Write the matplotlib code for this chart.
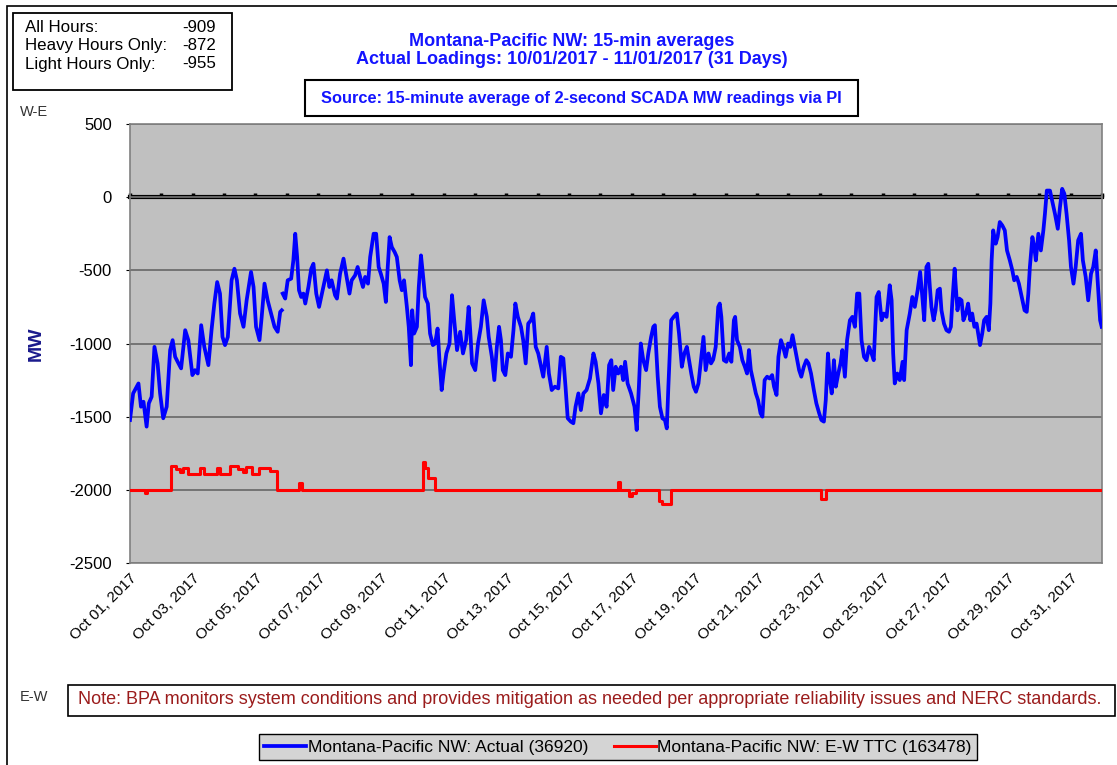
import numpy as np
import pandas as pd
import matplotlib
matplotlib.use("Agg")
from matplotlib import pyplot as plt
from matplotlib import dates as mdates
from matplotlib.ticker import FixedLocator, MultipleLocator
from matplotlib.patches import Rectangle

plt.rcParams['font.family'] = ['Liberation Sans', 'DejaVu Sans']
plt.rcParams['axes.unicode_minus'] = False

# 数据：10月1日起的天数 + MW
actual_day = [
    0.0, 0.1, 0.27, 0.35, 0.43, 0.53, 0.6, 0.69, 0.78, 0.88, 0.96, 1.06, 1.17, 1.28, 1.36,
    1.44, 1.52, 1.63, 1.76, 1.86, 1.99, 2.07, 2.16, 2.27, 2.37, 2.5, 2.6, 2.69, 2.78, 2.87,
    2.95, 3.03, 3.12, 3.24, 3.33, 3.41, 3.51, 3.62, 3.72, 3.86, 3.94, 4.02, 4.13, 4.2, 4.29,
    4.39, 4.5, 4.61, 4.71, 4.79, 4.84, 4.855, 4.87, 4.95, 5.03, 5.14, 5.21, 5.27, 5.33, 5.39,
    5.46, 5.53, 5.59, 5.69, 5.78, 5.85, 5.94, 6.03, 6.12, 6.28, 6.36, 6.43, 6.54, 6.6, 6.7,
    6.81, 6.89, 7.0, 7.07, 7.18, 7.26, 7.34, 7.43, 7.5, 7.59, 7.66, 7.77, 7.85, 7.93, 8.0,
    8.09, 8.16, 8.22, 8.28, 8.35, 8.44, 8.51, 8.6, 8.67, 8.74, 8.83, 8.89, 8.96, 9.0, 9.06,
    9.15, 9.21, 9.28, 9.34, 9.41, 9.5, 9.57, 9.66, 9.73, 9.81, 9.87, 9.94, 10.0, 10.09, 10.19,
    10.27, 10.34, 10.43, 10.53, 10.62, 10.72, 10.8, 10.85, 10.91, 11.01, 11.1, 11.19, 11.28, 11.38, 11.44,
    11.54, 11.62, 11.7, 11.77, 11.83, 11.89, 11.97, 12.05, 12.15, 12.23, 12.29, 12.37, 12.47, 12.54, 12.62,
    12.7, 12.79, 12.86, 12.94, 13.02, 13.11, 13.18, 13.29, 13.36, 13.45, 13.55, 13.66, 13.74, 13.82, 13.89,
    13.96, 14.06, 14.14, 14.21, 14.3, 14.38, 14.46, 14.56, 14.67, 14.78, 14.85, 14.94, 15.02, 15.11, 15.2,
    15.28, 15.35, 15.41, 15.49, 15.57, 15.66, 15.73, 15.79, 15.87, 15.98, 16.09, 16.16, 16.23, 16.29, 16.37,
    16.46, 16.53, 16.62, 16.69, 16.74, 16.83, 16.9, 16.98, 17.06, 17.12, 17.17, 17.26, 17.34, 17.44, 17.51,
    17.6, 17.68, 17.76, 17.83, 17.9, 17.98, 18.05, 18.13, 18.21, 18.29, 18.36, 18.45, 18.53, 18.6, 18.68,
    18.76, 18.81, 18.86, 18.94, 19.02, 19.11, 19.18, 19.26, 19.3, 19.36, 19.45, 19.53, 19.61, 19.68, 19.74,
    19.8, 19.87, 19.96, 20.03, 20.11, 20.17, 20.24, 20.32, 20.4, 20.48, 20.54, 20.62, 20.68, 20.76, 20.83,
    20.91, 20.99, 21.06, 21.13, 21.2, 21.28, 21.34, 21.41, 21.49, 21.57, 21.64, 21.72, 21.81, 21.89, 21.98,
    22.05, 22.13, 22.19, 22.26, 22.32, 22.38, 22.45, 22.51, 22.59, 22.66, 22.72, 22.8, 22.87, 22.96, 23.04,
    23.12, 23.19, 23.26, 23.33, 23.41, 23.49, 23.57, 23.65, 23.72, 23.81, 23.88, 23.97, 24.04, 24.13, 24.23,
    24.29, 24.34, 24.39, 24.47, 24.55, 24.64, 24.69, 24.77, 24.87, 24.95, 25.03, 25.12, 25.2, 25.27, 25.33,
    25.4, 25.46, 25.51, 25.56, 25.63, 25.69, 25.76, 25.83, 25.88, 25.96, 26.04, 26.12, 26.18, 26.23, 26.3,
    26.33, 26.39, 26.45, 26.52, 26.58, 26.66, 26.73, 26.8, 26.86, 26.93, 27.0, 27.05, 27.11, 27.18, 27.24,
    27.32, 27.39, 27.44, 27.48, 27.53, 27.61, 27.67, 27.74, 27.82, 27.9, 27.97, 28.06, 28.14, 28.2, 28.28,
    28.35, 28.44, 28.53, 28.6, 28.65, 28.7, 28.78, 28.84, 28.89, 28.97, 29.05, 29.13, 29.18, 29.24, 29.34,
    29.43, 29.5, 29.59, 29.66, 29.73, 29.8, 29.87, 29.95, 30.01, 30.09, 30.16, 30.24, 30.33, 30.39, 30.48,
    30.56, 30.65, 30.72, 30.8, 30.86, 30.94, 30.99,
]
actual_mw = [
    -1523, -1341, -1273, -1432, -1398, -1568, -1409, -1364, -1023, -1136, -1341, -1511, -1432, -1045, -977,
    -1091, -1125, -1170, -909, -977, -1216, -1182, -1205, -875, -1023, -1148, -909, -727, -580, -659,
    -955, -1011, -955, -568, -489, -568, -795, -886, -705, -511, -614, -886, -977, -818, -591,
    -705, -795, -886, -920, -784, -773, np.nan, -659, -693, -568, -557, -432, -250, -409, -636,
    -682, -659, -727, -614, -489, -455, -659, -750, -659, -500, -614, -568, -670, -693, -523,
    -420, -523, -659, -568, -534, -477, -545, -614, -545, -591, -409, -250, -250, -477, -523,
    -591, -716, -477, -273, -341, -375, -409, -568, -636, -568, -750, -886, -1148, -773, -932,
    -886, -614, -398, -523, -682, -727, -932, -1011, -1000, -898, -1114, -1318, -1205, -1068, -1000,
    -670, -841, -1045, -920, -1068, -977, -750, -909, -1136, -1182, -1000, -886, -705, -818, -955,
    -1091, -1250, -1023, -886, -977, -1182, -1216, -1068, -1091, -909, -727, -818, -886, -977, -1136,
    -864, -841, -795, -1023, -1068, -1159, -1227, -1023, -1205, -1318, -1295, -1307, -1091, -1102, -1295,
    -1511, -1534, -1545, -1432, -1341, -1455, -1341, -1318, -1239, -1068, -1125, -1273, -1477, -1352, -1432,
    -1148, -1114, -1318, -1159, -1205, -1159, -1250, -1125, -1273, -1341, -1432, -1591, -1295, -1000, -1114,
    -1182, -1068, -955, -886, -875, -1227, -1432, -1511, -1523, -1580, -1295, -841, -818, -795, -932,
    -1159, -1068, -1023, -1114, -1205, -1295, -1330, -1273, -1114, -955, -1182, -1068, -1136, -1110, -1023,
    -750, -727, -818, -1114, -1125, -1068, -1125, -841, -818, -977, -1023, -1114, -1159, -1205, -1045,
    -1182, -1250, -1341, -1386, -1477, -1500, -1250, -1227, -1239, -1216, -1295, -1352, -1091, -977, -1023,
    -1091, -1000, -1023, -943, -1023, -1114, -1182, -1227, -1159, -1114, -1136, -1205, -1318, -1409, -1477,
    -1523, -1534, -1386, -1068, -1250, -1341, -1114, -1295, -1205, -1136, -1045, -1227, -977, -841, -818,
    -886, -659, -659, -977, -1091, -1114, -1023, -1068, -1114, -682, -648, -841, -795, -818, -602,
    -705, -1068, -1273, -1205, -1250, -1125, -1250, -909, -795, -682, -750, -636, -511, -682, -841,
    -477, -455, -614, -750, -841, -773, -636, -625, -773, -864, -909, -920, -886, -705, -489,
    -591, -773, -693, -705, -841, -795, -727, -841, -795, -886, -864, -932, -1011, -932, -841,
    -818, -909, -727, -432, -227, -318, -273, -170, -193, -227, -364, -432, -500, -568, -545,
    -591, -682, -773, -784, -659, -477, -273, -341, -432, -250, -364, -227, -114, 45, 45,
    -45, -114, -216, -68, 57, 23, -114, -295, -477, -591, -477, -295, -250, -432, -545,
    -705, -523, -477, -364, -568, -841, -886,
]

# E-W TTC：阶梯值（从该时刻起保持）
ttc_day = [0.0, 0.47, 0.55, 1.3, 1.47, 1.6, 1.7, 1.85, 2.24, 2.35, 2.77, 2.88, 3.2, 3.45, 3.6,
           3.7, 3.9, 4.12, 4.45, 4.69, 5.38, 5.5, 9.33, 9.42, 9.5, 9.74, 15.55, 15.62, 15.9, 16.02,
           16.15, 16.88, 16.97, 17.25, 22.03, 22.2, 31.0]
ttc_mw = [-2000, -2025, -2000, -1835, -1860, -1880, -1850, -1890, -1850, -1890, -1850, -1890, -1840, -1860, -1875,
          -1845, -1890, -1850, -1870, -2000, -1950, -2000, -1810, -1850, -1920, -2000, -1945, -2000, -2040, -2020,
          -2000, -2075, -2095, -2000, -2060, -2000, -2000]

stats_names = ["All Hours:", "Heavy Hours Only:", "Light Hours Only:"]
stats_vals = ["-909", "-872", "-955"]
actual_count = 36920
ttc_count = 163478

start = pd.Timestamp("2017-10-01")
t_actual = start + pd.to_timedelta(actual_day, unit="D")
t_ttc = start + pd.to_timedelta(ttc_day, unit="D")

W, H = 1117, 765
fig = plt.figure(figsize=(W / 100, H / 100), dpi=100)

def fx(x):
    return x / W

def fy(y):
    return 1 - y / H

ax = fig.add_axes([fx(130), fy(563), fx(1102) - fx(130), fy(124) - fy(563)])
ax.set_facecolor("#c0c0c0")

ax.plot(t_actual, actual_mw, color="#0000ff", lw=2.7, solid_joinstyle="round",
        label="Montana-Pacific NW: Actual (%d)" % actual_count, zorder=3)
ax.plot(t_ttc, ttc_mw, color="#ff0000", lw=2.2, drawstyle="steps-post",
        label="Montana-Pacific NW: E-W TTC (%d)" % ttc_count, zorder=3)

ax.set_xlim(start, start + pd.Timedelta(days=31))
ax.set_ylim(-2500, 500)
ax.yaxis.set_major_locator(MultipleLocator(500))
ax.yaxis.grid(True, color="#6e6e6e", lw=1.3)
ax.set_axisbelow(True)
for s in ax.spines.values():
    s.set_color("#808080")
    s.set_linewidth(1.2)

xticks = mdates.date2num(pd.date_range("2017-10-01", "2017-10-31", freq="2D"))
ax.xaxis.set_major_locator(FixedLocator(xticks))
ax.xaxis.set_major_formatter(mdates.DateFormatter("%b %d, %Y"))
ax.tick_params(axis="x", length=0, pad=6, labelsize=11)
ax.tick_params(axis="y", length=3, pad=10, labelsize=12)
for lab in ax.get_xticklabels():
    lab.set_rotation(45)
    lab.set_ha("right")
    lab.set_va("top")
    lab.set_rotation_mode("anchor")

# 0 MW 处的粗黑线（带每日刻度）
sec = ax.secondary_xaxis(2500 / 3000)
sec.xaxis.set_major_locator(FixedLocator(mdates.date2num(pd.date_range("2017-10-01", "2017-11-01", freq="D"))))
sec.tick_params(axis="x", direction="out", length=3, width=2.5, labeltop=False, labelbottom=False)
sec.spines["top"].set_linewidth(3)
sec.spines["top"].set_color("black")

# 标题
blue = "#1414ff"
fig.text(fx(572), fy(42), "Montana-Pacific NW: 15-min averages", color=blue, fontsize=13,
         fontweight="bold", ha="center", va="center")
fig.text(fx(572), fy(59), "Actual Loadings: 10/01/2017 - 11/01/2017 (31 Days)", color=blue, fontsize=13,
         fontweight="bold", ha="center", va="center")
fig.patches.append(Rectangle((fx(305), fy(116)), fx(858) - fx(305), fy(80) - fy(116), transform=fig.transFigure,
                             fill=False, edgecolor="black", lw=1.5))
fig.text(fx(581), fy(98), "Source: 15-minute average of 2-second SCADA MW readings via PI", color=blue,
         fontsize=11.8, fontweight="bold", ha="center", va="center")

# 统计框
fig.patches.append(Rectangle((fx(13), fy(90)), fx(232) - fx(13), fy(13) - fy(90), transform=fig.transFigure,
                             fill=False, edgecolor="black", lw=1.3))
for i in range(3):
    yy = 27 + i * 18.5
    fig.text(fx(25), fy(yy), stats_names[i], fontsize=12.2, ha="left", va="center")
    fig.text(fx(216), fy(yy), stats_vals[i], fontsize=12.2, ha="right", va="center")

fig.text(fx(20), fy(112), "W-E", fontsize=10.5, color="#333333", ha="left", va="center")
fig.text(fx(20), fy(697), "E-W", fontsize=10.5, color="#333333", ha="left", va="center")
fig.text(fx(36), fy(344), "MW", fontsize=14, fontweight="bold", color="#1a1a8c", rotation=90,
         ha="center", va="center")

# 注释框
fig.patches.append(Rectangle((fx(68), fy(716)), fx(1115) - fx(68), fy(685) - fy(716), transform=fig.transFigure,
                             fill=False, edgecolor="black", lw=1.2))
fig.text(fx(78), fy(700), "Note: BPA monitors system conditions and provides mitigation as needed per "
         "appropriate reliability issues and NERC standards.", color="#9b1c1c", fontsize=13,
         ha="left", va="center")

# 外框
fig.patches.append(Rectangle((fx(7), -0.1), 1.2, fy(6) + 0.1, transform=fig.transFigure,
                             fill=False, edgecolor="black", lw=1.2))

leg = fig.legend(loc="center", bbox_to_anchor=(fx(618), fy(747)), ncol=2, fontsize=12.5,
                 frameon=True, fancybox=False, facecolor="#d4d4d4", edgecolor="black",
                 handlelength=2.4, handletextpad=0.1, columnspacing=1.5, borderpad=0.3,
                 borderaxespad=0)
leg.get_frame().set_linewidth(1.0)
leg.get_frame().set_alpha(1)

plt.savefig("out.png", dpi=100)
